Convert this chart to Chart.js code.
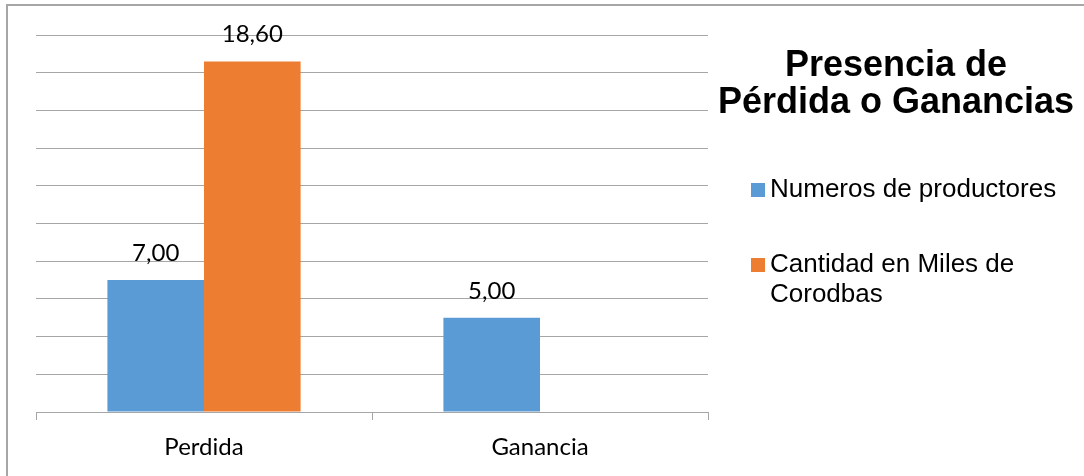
<!DOCTYPE html>
<html>
<head>
<meta charset="utf-8">
<script src="https://cdn.jsdelivr.net/npm/chart.js@4/dist/chart.umd.min.js"></script>
<style>
  html, body { margin: 0; padding: 0; background: #fff; }
  #wrap { width: 1084px; height: 476px; }
</style>
</head>
<body>
<div id="wrap"><canvas id="grafico"></canvas></div>
<script>
const categorias = ["Perdida", "Ganancia"];
const productores = [7.00, 5.00];
const milesCordobas = [18.60, null];
const titulo = ["Presencia de", "Pérdida o Ganancias"];

// marco, titulo y leyenda a la derecha
const adornos = {
    id: "adornos",
    beforeDraw(chart) {
        const ctx = chart.ctx;
        ctx.save();
        ctx.fillStyle = "#fff";
        ctx.fillRect(0, 0, chart.width, chart.height);
        ctx.strokeStyle = "#a6a6a6";
        ctx.lineWidth = 2;
        ctx.beginPath();
        ctx.moveTo(7, chart.height + 5);
        ctx.lineTo(7, 5);
        ctx.lineTo(chart.width + 5, 5);
        ctx.stroke();
        ctx.restore();
    },
    afterDraw(chart) {
        const ctx = chart.ctx;
        ctx.save();
        ctx.fillStyle = "#000";
        ctx.textAlign = "center";
        ctx.textBaseline = "alphabetic";
        ctx.font = "bold 36px 'Liberation Sans', Arial, sans-serif";
        titulo.forEach((t, i) => ctx.fillText(t, 896, 76 + i * 37));

        ctx.textAlign = "left";
        ctx.font = "26px 'Liberation Sans', Arial, sans-serif";
        const ys = [197, 272];
        chart.data.datasets.forEach((ds, i) => {
            ctx.fillStyle = ds.backgroundColor;
            ctx.fillRect(751, ys[i] - 14, 14, 14);
            ctx.fillStyle = "#000";
            // partir el texto en lineas
            const palabras = ds.label.split(" ");
            const lineas = [];
            let linea = "";
            palabras.forEach(p => {
                const prueba = linea ? linea + " " + p : p;
                if (ctx.measureText(prueba).width > 305 && linea) {
                    lineas.push(linea);
                    linea = p;
                } else {
                    linea = prueba;
                }
            });
            lineas.push(linea);
            lineas.forEach((l, j) => ctx.fillText(l, 770, ys[i] + j * 30));
        });
        ctx.restore();
    }
};

// etiquetas de valor encima de las barras
const etiquetas = {
    id: "etiquetas",
    afterDatasetsDraw(chart) {
        const ctx = chart.ctx;
        ctx.save();
        ctx.fillStyle = "#000";
        ctx.font = "24px Lato, 'Open Sans', sans-serif";
        ctx.textAlign = "center";
        ctx.textBaseline = "alphabetic";
        chart.data.datasets.forEach((ds, i) => {
            chart.getDatasetMeta(i).data.forEach((bar, j) => {
                const v = ds.data[j];
                if (v === null || v === undefined) return;
                ctx.fillText(v.toFixed(2).replace(".", ","), bar.x, bar.y - 19);
            });
        });
        ctx.restore();
    }
};

new Chart(document.getElementById("grafico"), {
    type: "bar",
    data: {
        labels: categorias,
        datasets: [
            {
                label: "Numeros de productores",
                data: productores,
                backgroundColor: "#5b9bd5",
            },
            {
                label: "Cantidad en Miles de Corodbas",
                data: milesCordobas,
                backgroundColor: "#ed7d31",
            },
        ],
    },
    options: {
        responsive: true,
        maintainAspectRatio: false,
        animation: false,
        layout: {
            padding: { left: 36, top: 35, right: 376, bottom: 0 },
        },
        categoryPercentage: 0.575,
        barPercentage: 1,
        plugins: {
            legend: { display: false },
            title: { display: false },
            tooltip: { enabled: false },
        },
        scales: {
            x: {
                grid: {
                    drawOnChartArea: false,
                    drawTicks: true,
                    tickLength: 8,
                    color: "#a6a6a6",
                    offset: true,
                },
                border: { display: true, color: "#a6a6a6", width: 1 },
                ticks: {
                    color: "#000",
                    padding: 13,
                    font: { family: "Lato, 'Open Sans', sans-serif", size: 24 },
                },
                afterFit(s) { s.height = 64; },
            },
            y: {
                min: 0,
                max: 20,
                ticks: { stepSize: 2, display: false },
                grid: { color: "#a6a6a6", drawTicks: false },
                border: { display: false },
                afterFit(s) { s.width = 0; },
            },
        },
    },
    plugins: [adornos, etiquetas],
});
</script>
</body>
</html>
